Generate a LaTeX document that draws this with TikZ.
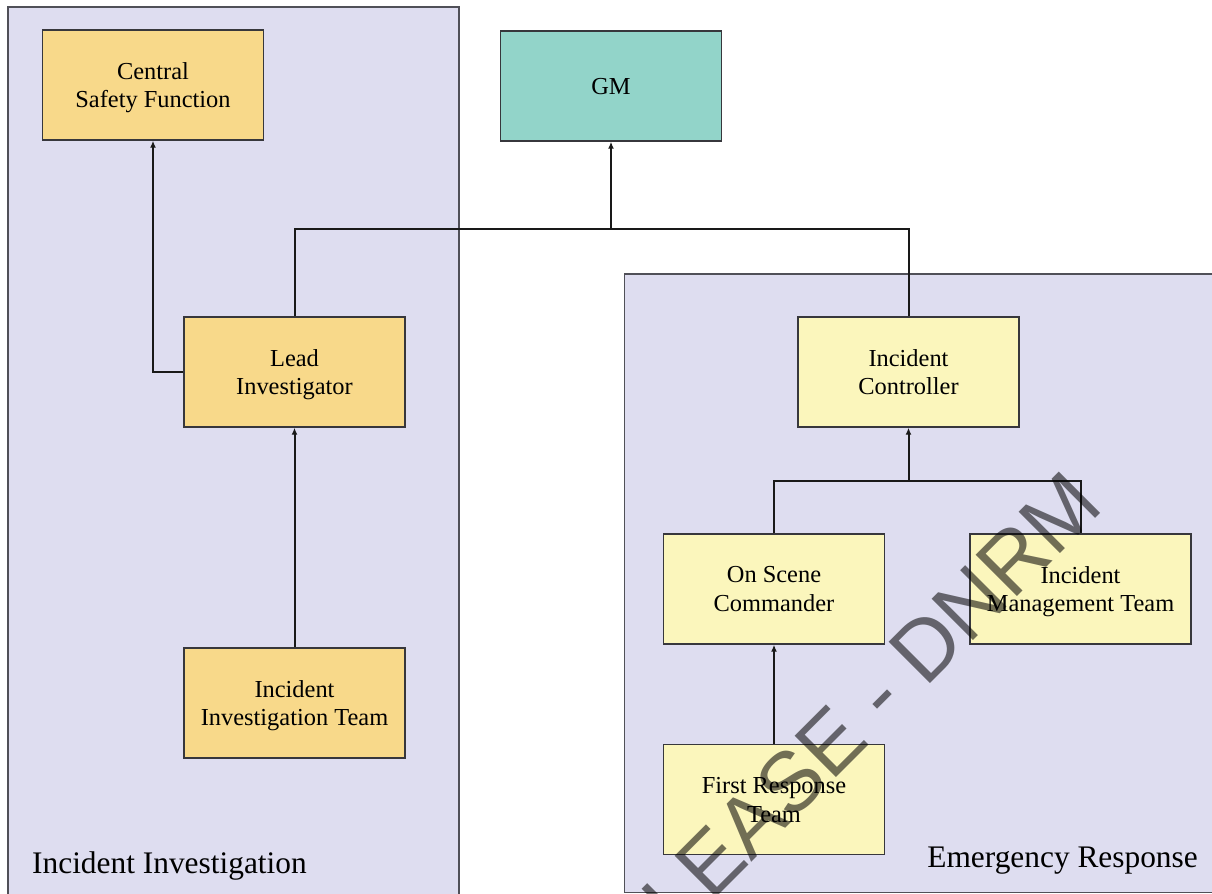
\documentclass[tikz,border=0pt]{standalone}
\usepackage{fontspec}
\setmainfont{Liberation Serif}
\newfontfamily\wmfont{Liberation Sans}
\usetikzlibrary{arrows.meta}

\definecolor{groupfill}{RGB}{222,221,240}
\definecolor{groupline}{RGB}{80,80,88}
\definecolor{boxline}{RGB}{55,55,60}
\definecolor{invfill}{RGB}{248,217,138}
\definecolor{gmfill}{RGB}{146,212,201}
\definecolor{erfill}{RGB}{251,246,188}

\begin{document}
\begin{tikzpicture}[x=1bp,y=-1bp,
  group/.style={draw=groupline, line width=1.6bp, fill=groupfill},
  grouplabel/.style={inner sep=0pt, anchor=base west, font=\fontsize{31.5}{36}\selectfont},
  rolebox/.style={draw=boxline, line width=1.4bp, minimum width=221bp,
    minimum height=110bp, inner sep=0pt, align=center, text depth=0pt,
    font=\fontsize{24.5}{29}\selectfont},
  link/.style={line width=2bp, draw=black!90},
  uplink/.style={link, -{Latex[length=7bp,width=6bp]}},
  wmark/.style={inner sep=0pt, anchor=base west, rotate=45, text=black,
    text opacity=0.55, font=\wmfont\fontsize{85.3}{90}\selectfont}
]
\useasboundingbox (0,0) rectangle (1212,894);
\clip (0,0) rectangle (1212,894);

% group panels
\draw[group] (8,7) rectangle (459,910);
\draw[group] (624.5,274) rectangle (1230,892.5);
\node[grouplabel] (invlabel) at (32,873) {Incident Investigation};
\node[grouplabel, anchor=base east] (erlabel) at (1198,867) {Emergency Response};

% role boxes
\node[rolebox, fill=invfill] (csf) at (153,85) {Central\\Safety Function};
\node[rolebox, fill=gmfill]  (gm)  at (611,86) {GM};
\node[rolebox, fill=invfill] (li)  at (294.5,372) {Lead\\Investigator};
\node[rolebox, fill=invfill] (iit) at (294.5,703) {Incident\\Investigation Team};
\node[rolebox, fill=erfill]  (ic)  at (908.5,372) {Incident\\Controller};
\node[rolebox, fill=erfill]  (osc) at (774,589) {On Scene\\Commander};
\node[rolebox, fill=erfill]  (imt) at (1080.5,589) {Incident\\Management Team};
\node[rolebox, fill=erfill]  (frt) at (774,799.5) {First Response\\Team};

% junctions of the reporting lines
\coordinate (topjoin) at (611,229);
\coordinate (erjoin) at (908.5,481);

% reporting lines
\draw[uplink] (li.west) -| (csf.south);
\draw[link] (li.north) |- (topjoin);
\draw[link] (ic.north) |- (topjoin);
\draw[uplink] (topjoin) -- (gm.south);
\draw[uplink] (iit.north) -- (li.south);
\draw[link] (osc.north) |- (erjoin);
\draw[link] (imt.north) |- (erjoin);
\draw[uplink] (erjoin) -- (ic.south);
\draw[uplink] (frt.north) -- (osc.south);

% release stamp
\node[wmark] (stamp) at (594.7,1019.3) {RELEASE - DNRM};
\end{tikzpicture}
\end{document}
